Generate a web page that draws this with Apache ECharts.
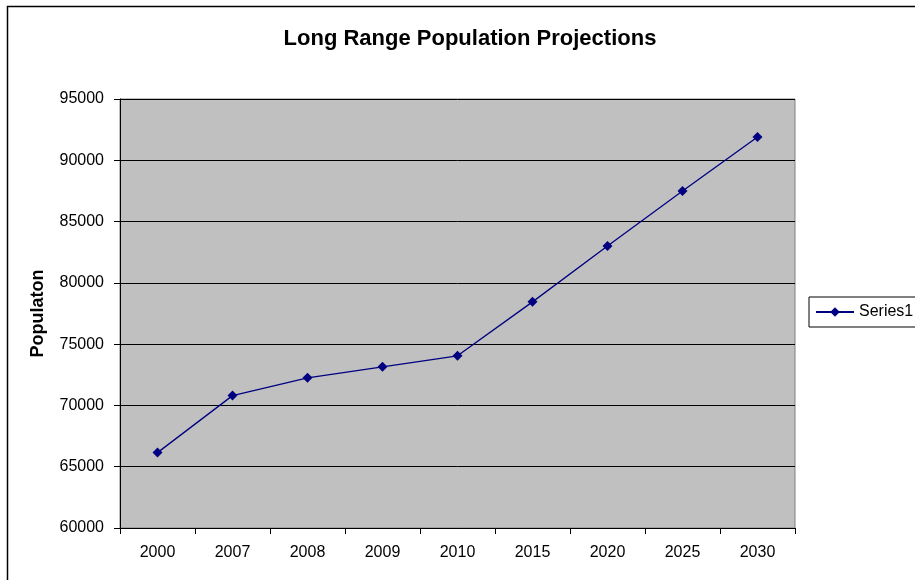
<!DOCTYPE html>
<html><head><meta charset="utf-8">
<script src="https://cdn.jsdelivr.net/npm/echarts@6/dist/echarts.min.js"></script>
<style>html,body{margin:0;padding:0;background:#fff}#c{width:915px;height:580px}</style>
</head><body><div id="c"></div>
<script>
var categories = ['2000','2007','2008','2009','2010','2015','2020','2025','2030'];
var population = [66150, 70800, 72250, 73150, 74050, 78450, 83000, 87500, 91900];
var seriesName = 'Series1';
var titleText = 'Long Range Population Projections';
var yAxisName = 'Populaton';

var chart = echarts.init(document.getElementById('c'));
var font = 'Liberation Sans, Arial, sans-serif';
chart.setOption({
  animation: false,
  backgroundColor: '#fff',
  graphic: [{type:'rect', left:5, top:4, shape:{width:930, height:600}, style:{fill:'none', stroke:'#000', lineWidth:1.5}, z:-1}],
  title: {text: titleText, left: 465, top: 23, textAlign:'center',
    textStyle:{fontFamily:font, fontSize:22, fontWeight:'bold', color:'#000'}},
  legend: {data:[seriesName], left: 809, top: 297, orient:'vertical',
    itemWidth: 38, itemHeight: 12, itemGap: 0,
    borderColor:'#000', borderWidth:1, padding:[7,30,7,6],
    textStyle:{fontFamily:font, fontSize:16, color:'#000'}},
  grid: {left:120, right:120, top:99, bottom:52, show:true, backgroundColor:'#C0C0C0', borderColor:'#808080', borderWidth:1},
  xAxis: {type:'category', data: categories, boundaryGap:true,
    axisLine:{lineStyle:{color:'#000'}}, axisTick:{show:true, length:6, lineStyle:{color:'#000'}},
    axisLabel:{fontFamily:font, fontSize:16, color:'#000', margin:17}},
  yAxis: {type:'value', min:60000, max:95000, interval:5000,
    name: yAxisName, nameLocation:'middle', nameGap:73, nameRotate:90,
    nameTextStyle:{fontFamily:font, fontSize:18, fontWeight:'bold', color:'#000'},
    axisLine:{show:true, lineStyle:{color:'#000'}}, axisTick:{show:true, length:6, lineStyle:{color:'#000'}},
    splitLine:{show:true, lineStyle:{color:'#000', width:1}},
    axisLabel:{fontFamily:font, fontSize:16, color:'#000', margin:16, formatter: function(v){return String(v);}}},
  series: [{name:seriesName, type:'line', data: population, symbol:'diamond', symbolSize:10,
    itemStyle:{color:'#000080'}, lineStyle:{color:'#000080', width:1.3}}]
});
</script></body></html>
